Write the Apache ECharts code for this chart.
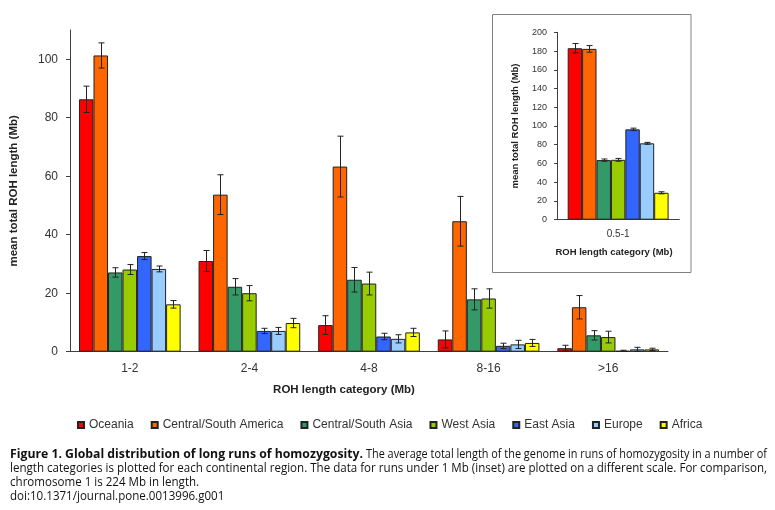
<!DOCTYPE html>
<html>
<head>
<meta charset="utf-8">
<script src="https://cdn.jsdelivr.net/npm/echarts@6/dist/echarts.min.js"></script>
<style>
html,body{margin:0;padding:0;background:#fff;}
#c{width:775px;height:510px;}
</style>
</head>
<body>
<div id="c"></div>
<script>
// ---- data ----
var categories = ['1-2', '2-4', '4-8', '8-16', '>16'];
var insetCategories = ['0.5-1'];
var regions = ['Oceania', 'Central/South America', 'Central/South Asia', 'West Asia', 'East Asia', 'Europe', 'Africa'];
var mainYTicks = [0, 20, 40, 60, 80, 100];

var oceania      = [86.3, 31.0, 9.1, 4.2, 1.2];
var oceaniaErr   = [4.5, 3.6, 3.2, 2.9, 1.0];
var csAmerica    = [101.3, 53.7, 63.3, 44.6, 15.2];
var csAmericaErr = [4.3, 6.8, 10.4, 8.5, 4.0];
var csAsia       = [27.1, 22.2, 24.6, 17.9, 5.6];
var csAsiaErr    = [1.6, 2.8, 4.2, 3.6, 1.6];
var westAsia     = [28.1, 20.0, 23.3, 18.2, 5.0];
var westAsiaErr  = [1.7, 2.6, 3.9, 3.3, 2.0];
var eastAsia     = [32.7, 7.1, 5.2, 2.0, 0.3];
var eastAsiaErr  = [1.2, 0.9, 1.1, 0.9, 0.2];
var europe       = [28.3, 7.1, 4.4, 2.5, 0.8];
var europeErr    = [1.0, 1.2, 1.4, 1.4, 0.7];
var africa       = [16.2, 9.8, 6.6, 3.0, 0.8];
var africaErr    = [1.3, 1.6, 1.4, 1.2, 0.4];

// inset (0.5-1 Mb), one value per region in region order
var insetValues = [183.0, 182.3, 63.6, 63.9, 96.4, 81.5, 28.7];
var insetErr    = [5.0, 3.5, 1.2, 1.5, 1.3, 1.0, 1.1];

var mainValues = [oceania, csAmerica, csAsia, westAsia, eastAsia, europe, africa];
var mainErr = [oceaniaErr, csAmericaErr, csAsiaErr, westAsiaErr, eastAsiaErr, europeErr, africaErr];

// ---- styles ----
var colors = ['#FF0000', '#FF6600', '#339966', '#99CC00', '#3366FF', '#99CCFF', '#FFFF00'];
var FONT = '"Liberation Sans", Arial, sans-serif';
var TXT = '#333';
var MAIN_GAP = 0.15, INSET_GAP = 0.175;

function errRenderer(i, n, gap) {
  return function (params, api) {
    var ci = api.value(0), v = api.value(1), e = api.value(2);
    var c = api.coord([ci, v]);
    var band = api.size([1, 0])[0];
    var group = band * (1 - gap);
    var bw = group / n;
    var x = Math.round(c[0] - group / 2 + (i + 0.5) * bw) + 0.5;
    var top = api.coord([ci, v + e])[1];
    var bot = api.coord([ci, Math.max(0, v - e)])[1];
    var cap = 3;
    var st = { stroke: '#222', lineWidth: 1 };
    return {
      type: 'group',
      children: [
        { type: 'line', shape: { x1: x, y1: top, x2: x, y2: bot }, style: st },
        { type: 'line', shape: { x1: x - cap, y1: top, x2: x + cap, y2: top }, style: st },
        { type: 'line', shape: { x1: x - cap, y1: bot, x2: x + cap, y2: bot }, style: st }
      ]
    };
  };
}

var series = [];
regions.forEach(function (r, i) {
  series.push({
    name: r, type: 'bar', xAxisIndex: 0, yAxisIndex: 0,
    data: mainValues[i], barGap: '0%', barCategoryGap: (MAIN_GAP * 100) + '%',
    itemStyle: { color: colors[i], borderColor: '#222', borderWidth: 1 },
    emphasis: { disabled: true }, z: 2
  });
});
regions.forEach(function (r, i) {
  series.push({
    name: r + ' err', type: 'custom', xAxisIndex: 0, yAxisIndex: 0,
    renderItem: errRenderer(i, regions.length, MAIN_GAP),
    data: mainValues[i].map(function (v, k) { return [k, v, mainErr[i][k]]; }),
    z: 5, silent: true
  });
});
regions.forEach(function (r, i) {
  series.push({
    name: r + ' inset', type: 'bar', xAxisIndex: 1, yAxisIndex: 1,
    data: [insetValues[i]], barGap: '0%', barCategoryGap: (INSET_GAP * 100) + '%',
    itemStyle: { color: colors[i], borderColor: '#222', borderWidth: 1 },
    emphasis: { disabled: true }, z: 2
  });
});
regions.forEach(function (r, i) {
  series.push({
    name: r + ' inset err', type: 'custom', xAxisIndex: 1, yAxisIndex: 1,
    renderItem: errRenderer(i, regions.length, INSET_GAP),
    data: [[0, insetValues[i], insetErr[i]]],
    z: 5, silent: true
  });
});

// ---- caption layout helpers ----
var mctx = document.createElement('canvas').getContext('2d');
function textW(t, weight, size, fam) { mctx.font = weight + ' ' + size + 'px ' + fam; return mctx.measureText(t).width; }
var CAP_FAM = '"Open Sans"';
var CAP_SIZE = 12;
var cap1b = 'Figure 1. Global distribution of long runs of homozygosity.';
var cap1n = 'The average total length of the genome in runs of homozygosity in a number of';
var cap2 = 'length categories is plotted for each continental region. The data for runs under 1 Mb (inset) are plotted on a different scale. For comparison,';
var cap3 = 'chromosome 1 is 224 Mb in length.';
var cap4 = 'doi:10.1371/journal.pone.0013996.g001';
var s1b = 353 / textW(cap1b, 'bold', CAP_SIZE, CAP_FAM);
var s1n = 401 / textW(cap1n, 'normal', CAP_SIZE, CAP_FAM);
var s2 = 757 / textW(cap2, 'normal', CAP_SIZE, CAP_FAM);
function capText(t, x, y, sx, bold) {
  return { type: 'text', x: x, y: y, scaleX: sx, style: { text: t, fontFamily: CAP_FAM, fontSize: CAP_SIZE, fontWeight: bold ? 'bold' : 'normal', fill: '#111', verticalAlign: 'middle', align: 'left' } };
}

var axisLineStyle = { color: '#404040', width: 1 };

var option = {
  animation: false,
  backgroundColor: '#fff',
  legend: {
    data: regions, left: 72, top: 414, itemWidth: 6, itemHeight: 6, itemGap: 17,
    icon: 'rect', selectedMode: false,
    textStyle: { fontFamily: FONT, fontSize: 12, color: TXT }
  },
  grid: [
    { left: 66, right: 107, top: 30, bottom: 158.3 },
    { left: 557, right: 95.7, top: 32.3, bottom: 290.3, z: 3 }
  ],
  xAxis: [
    { type: 'category', gridIndex: 0, data: categories,
      axisLine: { lineStyle: axisLineStyle }, axisTick: { length: 4, lineStyle: axisLineStyle },
      axisLabel: { fontFamily: FONT, fontSize: 12, color: TXT, margin: 11 } },
    { type: 'category', gridIndex: 1, data: insetCategories,
      axisLine: { lineStyle: axisLineStyle }, axisTick: { length: 4, lineStyle: axisLineStyle },
      axisLabel: { fontFamily: FONT, fontSize: 10, color: TXT, margin: 10 } }
  ],
  yAxis: [
    { type: 'value', gridIndex: 0, min: 0, max: 110, interval: 20,
      splitLine: { show: false },
      axisLine: { show: true, lineStyle: axisLineStyle },
      axisTick: { show: true, length: 4, lineStyle: axisLineStyle, customValues: mainYTicks },
      axisLabel: { fontFamily: FONT, fontSize: 12, color: TXT, margin: 12, customValues: mainYTicks },
      name: 'mean total ROH length (Mb)', nameLocation: 'middle', nameGap: 50,
      nameTextStyle: { fontFamily: FONT, fontSize: 11.5, fontWeight: 'bold', color: '#222' } },
    { type: 'value', gridIndex: 1, min: 0, max: 200, interval: 20,
      splitLine: { show: false },
      axisLine: { show: true, lineStyle: axisLineStyle },
      axisTick: { show: true, length: 3, lineStyle: axisLineStyle },
      axisLabel: { fontFamily: FONT, fontSize: 9, color: TXT, margin: 10 },
      name: 'mean total ROH length (Mb)', nameLocation: 'middle', nameGap: 37,
      nameTextStyle: { fontFamily: FONT, fontSize: 9.5, fontWeight: 'bold', color: '#222' } }
  ],
  graphic: [
    { type: 'rect', z: -10, shape: { x: 492.5, y: 14.5, width: 198.5, height: 258 },
      style: { fill: '#fff', stroke: '#808080', lineWidth: 1 } },
    { type: 'text', x: 344, y: 390, style: { text: 'ROH length category (Mb)', fontFamily: FONT, fontSize: 11.5, fontWeight: 'bold', fill: '#222', align: 'center', verticalAlign: 'middle' } },
    { type: 'text', x: 614, y: 252.3, style: { text: 'ROH length category (Mb)', fontFamily: FONT, fontSize: 9.5, fontWeight: 'bold', fill: '#222', align: 'center', verticalAlign: 'middle' } },
    capText(cap1b, 10, 455, s1b, true),
    capText(cap1n, 366, 455, s1n, false),
    capText(cap2, 10, 469, s2, false),
    capText(cap3, 10, 483, s2, false),
    capText(cap4, 10, 497, s2, false)
  ],
  series: series
};

var chart = echarts.init(document.getElementById('c'), null, { renderer: 'canvas' });
chart.setOption(option);
</script>
</body>
</html>
